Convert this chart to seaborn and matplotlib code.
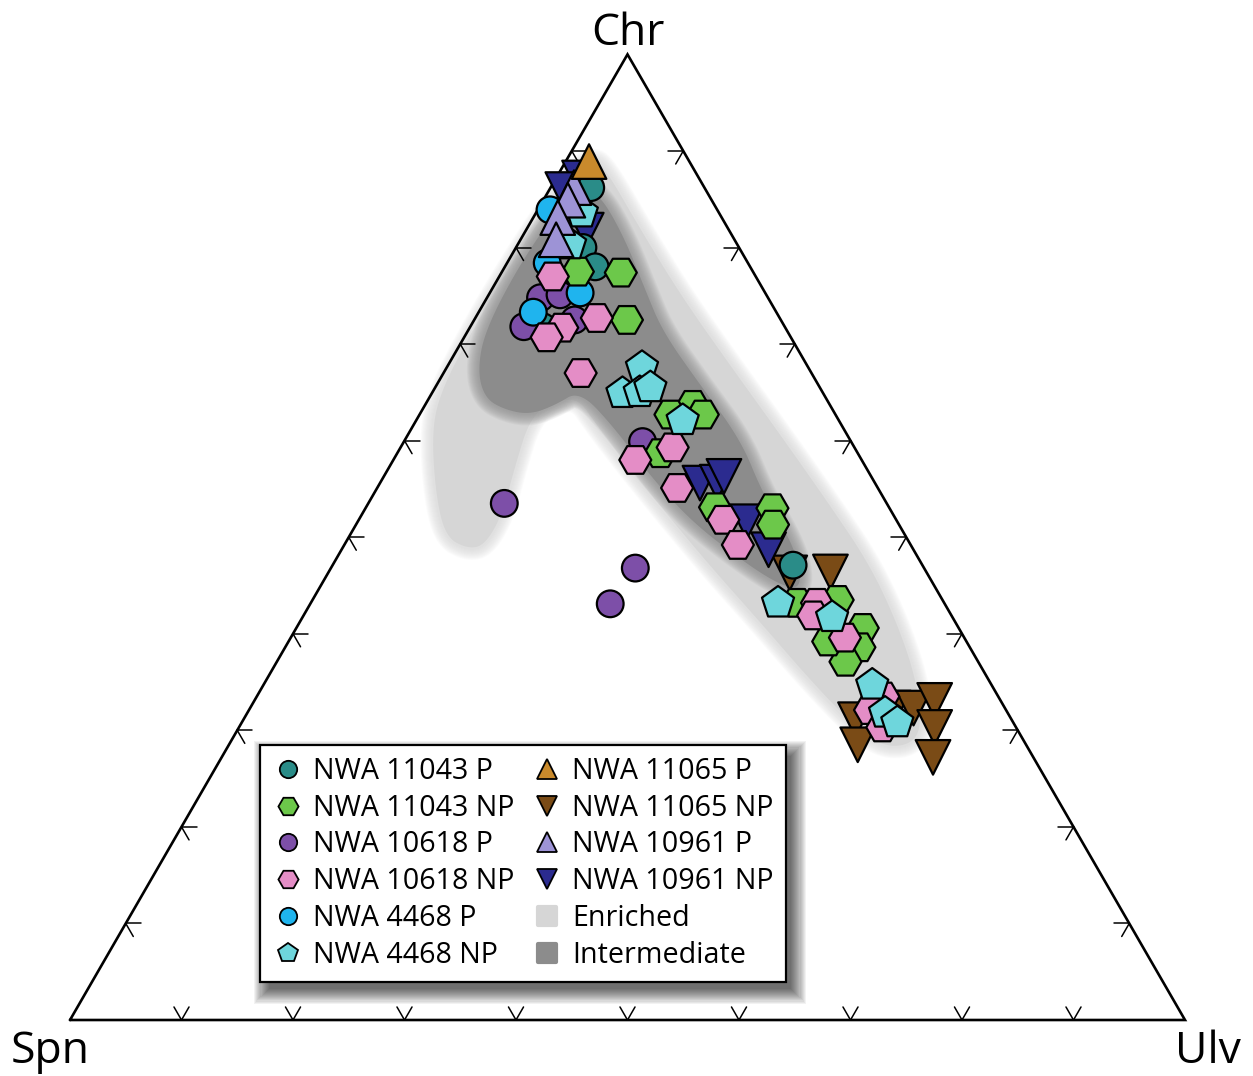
import numpy as np
import pandas as pd
import matplotlib
matplotlib.use("Agg")
import matplotlib.pyplot as plt
import seaborn as sns
from matplotlib.lines import Line2D
from matplotlib.patches import Rectangle, Polygon
from matplotlib.markers import MarkerStyle

sns.set_style("white")
plt.rcParams["font.family"] = ["Open Sans", "DejaVu Sans"]
plt.rcParams["text.color"] = "black"

# ---------------- data: compositions in % (Chr, Ulv); Spn = 100 - Chr - Ulv
nwa11043_p_chr = [86.2, 80.0, 78.0, 71.8, 47.1]
nwa11043_p_ulv = [3.6, 6.0, 8.1, 6.5, 41.3]

nwa11043_np_chr = [77.4, 72.5, 77.5, 63.7, 62.7, 62.7, 58.7, 53.1, 53.0, 51.3, 43.2, 43.5, 40.6, 38.6, 37.1, 39.2]
nwa11043_np_ulv = [10.7, 13.7, 6.8, 24.0, 22.5, 25.4, 23.6, 31.3, 36.5, 37.4, 43.6, 47.1, 50.8, 51.5, 51.0, 48.4]

nwa10618_p_chr = [74.8, 75.1, 72.5, 71.8, 53.5, 46.8, 43.1, 59.9]
nwa10618_p_ulv = [4.8, 6.4, 9.0, 4.8, 12.2, 27.3, 26.9, 21.4]

nwa10618_np_chr = [77.0, 72.7, 71.7, 70.7, 67.0, 59.3, 58.0, 55.1, 51.8, 49.2, 43.2, 41.9, 39.6, 33.5, 32.1, 30.3]
nwa10618_np_ulv = [4.8, 10.9, 8.3, 7.4, 12.3, 24.4, 21.7, 26.9, 32.7, 35.3, 45.4, 45.7, 49.7, 56.2, 55.7, 57.7]

nwa4468_p_chr = [83.9, 78.4, 75.3, 73.3]
nwa4468_p_ulv = [1.1, 3.6, 8.1, 4.9]

nwa4468_np_chr = [83.6, 80.3, 67.6, 64.9, 65.0, 65.5, 62.1, 43.2, 41.7, 34.7, 31.8, 30.8]
nwa4468_np_ulv = [4.1, 4.7, 17.5, 17.1, 18.6, 19.3, 23.9, 41.9, 47.5, 54.6, 57.2, 58.8]

nwa11065_p_chr = [88.9]
nwa11065_p_ulv = [2.1]

nwa11065_np_chr = [46.3, 46.4, 31.1, 28.5, 32.3, 32.3, 33.1, 30.3, 27.2]
nwa11065_np_ulv = [41.4, 45.0, 54.9, 56.4, 57.7, 59.5, 61.0, 62.4, 63.8]

nwa10961_p_chr = [86.2, 84.9, 83.1, 80.8]
nwa10961_p_ulv = [2.1, 2.2, 2.2, 3.2]

nwa10961_np_chr = [87.2, 86.0, 81.8, 55.6, 55.7, 56.3, 51.6, 48.7]
nwa10961_np_ulv = [2.1, 1.2, 5.4, 28.7, 30.2, 30.5, 34.9, 38.3]

# field outlines (Chr %, Ulv %)
enriched_chr = [89.3, 88.0, 82.0, 75.1, 67.8, 60.6, 53.3, 47.1, 40.9, 35.2, 30.2, 28.4, 28.4, 30.9,
                35.2, 41.2, 47.1, 53.0, 58.2, 61.9, 64.4, 64.0, 62.3, 57.5, 52.3, 49.2, 48.8, 50.0,
                54.4, 61.1, 65.2, 70.9, 77.2, 82.9, 87.5]
enriched_ulv = [2.2, 4.1, 10.1, 17.2, 25.3, 33.4, 41.5, 48.2, 53.8, 58.3, 61.3, 61.0, 58.5, 54.5,
                48.8, 41.3, 33.8, 26.6, 20.4, 16.1, 13.4, 11.2, 10.1, 11.2, 12.6, 12.6, 11.3, 8.7,
                5.6, 1.9, 0.7, 0.4, 0.4, 0.7, 1.3]

intermediate_chr = [86.0, 85.1, 80.8, 75.6, 71.3, 65.8, 60.1, 54.6, 50.4, 47.1, 44.5, 45.3, 48.1,
                    51.8, 56.4, 61.3, 65.2, 63.7, 62.7, 63.2, 64.4, 67.3, 71.5, 78.4, 84.4]
intermediate_ulv = [3.3, 5.2, 9.4, 13.8, 17.5, 23.6, 30.1, 34.8, 39.1, 41.9, 43.2, 40.6, 35.6,
                    29.7, 23.8, 18.2, 13.1, 11.7, 9.9, 7.4, 5.0, 2.9, 1.5, 1.2, 1.8]

names = ["NWA 11043 P", "NWA 11043 NP", "NWA 10618 P", "NWA 10618 NP", "NWA 4468 P",
         "NWA 4468 NP", "NWA 11065 P", "NWA 11065 NP", "NWA 10961 P", "NWA 10961 NP"]
corner_labels = ["Chr", "Spn", "Ulv"]
field_labels = ["Enriched", "Intermediate"]

series = {
    "NWA 11043 P": (nwa11043_p_chr, nwa11043_p_ulv),
    "NWA 11043 NP": (nwa11043_np_chr, nwa11043_np_ulv),
    "NWA 10618 P": (nwa10618_p_chr, nwa10618_p_ulv),
    "NWA 10618 NP": (nwa10618_np_chr, nwa10618_np_ulv),
    "NWA 4468 P": (nwa4468_p_chr, nwa4468_p_ulv),
    "NWA 4468 NP": (nwa4468_np_chr, nwa4468_np_ulv),
    "NWA 11065 P": (nwa11065_p_chr, nwa11065_p_ulv),
    "NWA 11065 NP": (nwa11065_np_chr, nwa11065_np_ulv),
    "NWA 10961 P": (nwa10961_p_chr, nwa10961_p_ulv),
    "NWA 10961 NP": (nwa10961_np_chr, nwa10961_np_ulv),
}

palette = {
    "NWA 11043 P": "#2a8c88", "NWA 11043 NP": "#6cc84a", "NWA 10618 P": "#7d4fa8",
    "NWA 10618 NP": "#e48dc6", "NWA 4468 P": "#1fb4ee", "NWA 4468 NP": "#6ed6dc",
    "NWA 11065 P": "#c98a2c", "NWA 11065 NP": "#7a4b16", "NWA 10961 P": "#9d93d6",
    "NWA 10961 NP": "#2b2b8f",
}
markers = {
    "NWA 11043 P": "o", "NWA 11043 NP": "H", "NWA 10618 P": "o", "NWA 10618 NP": "H",
    "NWA 4468 P": "o", "NWA 4468 NP": "p", "NWA 11065 P": "^", "NWA 11065 NP": "v",
    "NWA 10961 P": "^", "NWA 10961 NP": "v",
}
sizes = {"o": 370, "H": 530, "p": 590, "^": 620, "v": 620}
field_colors = {"Enriched": "#d6d6d6", "Intermediate": "#8c8c8c"}

draw_order = ["NWA 11065 NP", "NWA 10961 NP", "NWA 11043 P", "NWA 10618 P", "NWA 4468 P",
              "NWA 11043 NP", "NWA 10618 NP", "NWA 4468 NP", "NWA 10961 P", "NWA 11065 P"]

S3 = np.sqrt(3) / 2


def tern(chr_pct, ulv_pct):
    c = np.asarray(chr_pct, float) / 100.0
    u = np.asarray(ulv_pct, float) / 100.0
    return u + 0.5 * c, S3 * c


def chaikin(x, y, n=3):
    p = np.column_stack([x, y])
    for _ in range(n):
        q = np.roll(p, -1, axis=0)
        new = np.empty((2 * len(p), 2))
        new[0::2] = 0.75 * p + 0.25 * q
        new[1::2] = 0.25 * p + 0.75 * q
        p = new
    return p


rows = []
for n in draw_order:
    cc, uu = series[n]
    x, y = tern(cc, uu)
    for xi, yi in zip(x, y):
        rows.append({"x": xi, "y": yi, "sample": n})
df = pd.DataFrame(rows)

W, H = 1253, 1076
fig = plt.figure(figsize=(W / 100, H / 100), dpi=100)
ax = fig.add_axes([0, 0, 1, 1])
scale = 1115.0
ax.set_xlim(-70 / scale, (W - 70) / scale)
ax.set_ylim(-(H - 1020) / scale, 1020 / scale)
ax.axis("off")

# fields with soft edges
for lab, cc, uu, z in [("Enriched", enriched_chr, enriched_ulv, 1.0),
                       ("Intermediate", intermediate_chr, intermediate_ulv, 1.2)]:
    x, y = tern(cc, uu)
    pts = chaikin(x, y, 4)
    col = field_colors[lab]
    for k in range(12):
        lw = 18 - 1.4 * k
        ax.add_patch(Polygon(pts, closed=True, facecolor="none", edgecolor=col, lw=lw,
                             alpha=0.09, joinstyle="round", zorder=z))
    ax.add_patch(Polygon(pts, closed=True, facecolor=col, edgecolor="none", zorder=z + 0.05))

# triangle frame
ax.plot([0, 1, 0.5, 0], [0, 0, S3, 0], color="black", lw=1.9, solid_joinstyle="miter", zorder=2)

# ticks
L = 0.0135
for i in range(1, 10):
    f = i / 10
    pts = [((f, 0), [(0.5, S3), (-0.5, S3)]),
           ((0.5 * f, S3 * f), [(1, 0), (0.5, -S3)]),
           ((1 - 0.5 * f, S3 * f), [(-1, 0), (-0.5, -S3)])]
    for (px, py), dirs in pts:
        for dx, dy in dirs:
            ax.plot([px, px + L * dx], [py, py + L * dy], color="black", lw=1.1, zorder=2)

# points
sns.scatterplot(data=df, x="x", y="y", hue="sample", style="sample", size="sample",
                palette=palette, markers=markers,
                sizes={n: sizes[markers[n]] for n in names},
                edgecolor="black", linewidth=1.6, legend=False, ax=ax, zorder=3)
ax.set_xlim(-70 / scale, (W - 70) / scale)
ax.set_ylim(-(H - 1020) / scale, 1020 / scale)

# corner labels
ax.annotate(corner_labels[0], xy=(0.5, S3), xytext=(0, 7), textcoords="offset points",
            ha="center", va="baseline", fontsize=32, color="black")
ax.annotate(corner_labels[1], xy=(0, 0), xytext=(-14, -31), textcoords="offset points",
            ha="center", va="baseline", fontsize=32, color="black")
ax.annotate(corner_labels[2], xy=(1, 0), xytext=(16.5, -31), textcoords="offset points",
            ha="center", va="baseline", fontsize=32, color="black")

# legend
leg_ms = {"o": 12.5, "H": 14.5, "p": 14.5, "^": 14, "v": 14}
handles = []
for n in names:
    handles.append(Line2D([], [], ls="none", marker=markers[n], markerfacecolor=palette[n],
                          markeredgecolor="black", markeredgewidth=1.3,
                          markersize=leg_ms[markers[n]], label=n))
for lab in field_labels:
    handles.append(Line2D([], [], ls="none", marker=MarkerStyle("s", joinstyle="round"),
                          markerfacecolor=field_colors[lab], markeredgecolor=field_colors[lab],
                          markeredgewidth=3, markersize=13, label=lab))
leg = ax.legend(handles=handles, ncol=2, loc="upper left",
                bbox_to_anchor=(260 / W, 1 - 745 / H), bbox_transform=fig.transFigure,
                borderaxespad=0, fontsize=20.6, frameon=True, fancybox=False,
                framealpha=1, edgecolor="black", handlelength=1.1, handletextpad=0.33,
                columnspacing=0.6, labelspacing=0.27, borderpad=0.42)
leg.get_frame().set_linewidth(1.6)
leg.set_zorder(10)
for t in leg.get_texts():
    t.set_color("black")

fig.canvas.draw()
bb = leg.get_window_extent().transformed(fig.transFigure.inverted())
for r in np.linspace(13, -2, 15):
    rx, ry = r / W, r / H
    ax.add_patch(Rectangle((bb.x0 + 7 / W - rx, bb.y0 - 9 / H - ry),
                           bb.width + 2 * rx, bb.height + 2 * ry,
                           transform=fig.transFigure, facecolor="black", edgecolor="none",
                           alpha=0.05, zorder=9))

fig.savefig("out.png", dpi=100)
